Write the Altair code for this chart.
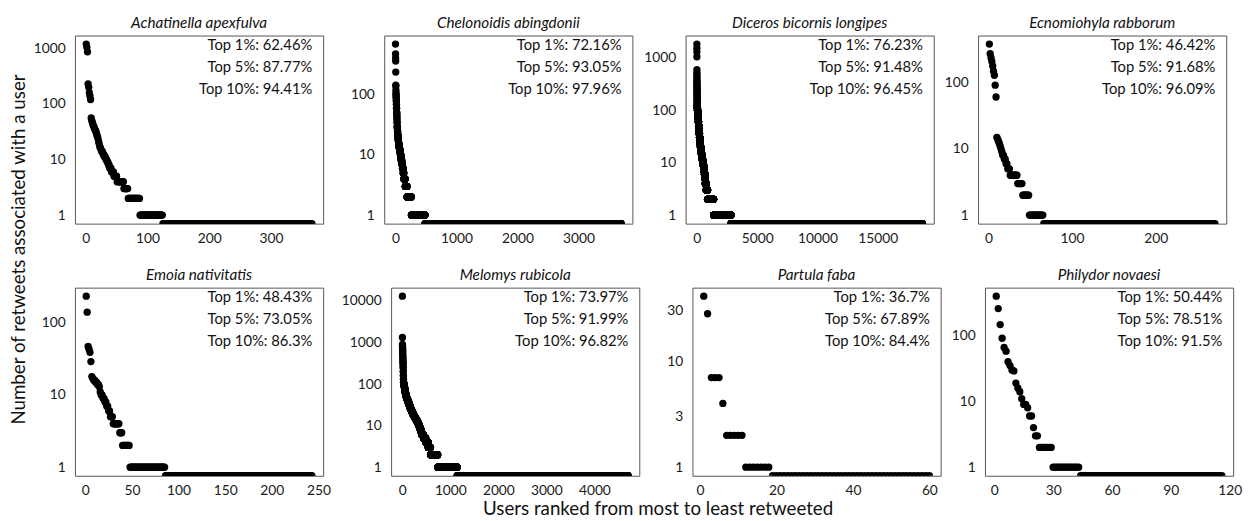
import math
import altair as alt
import pandas as pd

FONT = "Lato"

species = ["Achatinella apexfulva", "Chelonoidis abingdonii", "Diceros bicornis longipes",
           "Ecnomiohyla rabborum", "Emoia nativitatis", "Melomys rubicola",
           "Partula faba", "Philydor novaesi"]

# Retweet-count levels (descending) and number of users at each level
achatinella_counts = [1200, 1050, 870, 230, 200, 160, 140, 120, 56, 50, 46, 42, 40, 37, 35, 33, 31,
                      28, 26, 24, 21, 19, 17, 16, 15, 14, 13, 12, 11, 10, 9, 8, 7, 6, 5, 4, 3, 2, 1, 0]
achatinella_users = [1, 1, 1, 1, 1, 1, 1, 1, 1, 1, 1, 1, 1, 1, 1, 1, 1,
                     1, 1, 1, 1, 1, 1, 1, 1, 2, 1, 2, 2, 2, 2, 2, 3, 4, 5, 11, 7, 19, 37, 242]

chelonoidis_counts = [700, 480, 410, 365, 240, 145, 140, 120, 110, 100, 90, 80, 70, 60, 50, 45, 40, 35, 30,
                      28, 25, 22, 20, 18, 16, 15, 14, 13, 12, 11, 10, 9, 8, 7, 6, 5, 4, 3, 2, 1, 0]
chelonoidis_users = [1, 1, 1, 1, 1, 1, 1, 1, 1, 2, 2, 2, 2, 2, 3, 2, 2, 2, 2,
                     3, 3, 4, 4, 5, 4, 5, 5, 6, 6, 6, 7, 7, 10, 10, 11, 11, 23, 30, 70, 225, 3215]

diceros_counts = [1820, 1520, 1280, 1040, 590, 520, 480, 440, 400, 370,
                  340, 300, 270, 240, 220, 200, 180, 165, 150, 140,
                  125, 110, 100, 90, 80, 70, 60, 50, 42, 36,
                  30, 26, 23, 20, 18, 16, 15, 14, 13, 12, 11,
                  10, 9, 8, 7, 6, 5, 4, 3, 2, 1, 0]
diceros_users = [1, 1, 1, 1, 1, 1, 1, 1, 1, 1,
                 2, 2, 2, 2, 2, 2, 2, 2, 2, 2,
                 10, 12, 14, 16, 18, 20, 22, 24, 26, 28,
                 25, 25, 25, 25, 25, 25, 25, 25, 25, 20, 25,
                 35, 35, 35, 35, 35, 35, 80, 110, 500, 1450, 15860]

ecnomiohyla_counts = [385, 275, 240, 210, 180, 150, 130, 92, 61, 15, 14, 13, 12, 11, 10, 9,
                      8, 7, 6, 5, 4, 3, 2, 1, 0]
ecnomiohyla_users = [1, 1, 1, 1, 1, 1, 1, 1, 1, 1, 1, 1, 1, 1, 1, 1,
                     2, 2, 2, 3, 9, 6, 8, 17, 206]

emoia_counts = [233, 140, 47, 43, 39, 29, 18, 17, 16, 15, 14, 13, 11, 10, 9, 8, 7, 6, 5,
                4, 3, 2, 1, 0]
emoia_users = [1, 1, 1, 1, 1, 1, 1, 1, 2, 2, 2, 1, 1, 2, 2, 2, 2, 2, 3,
               7, 3, 8, 38, 158]

melomys_counts = [13000, 1320, 900, 800, 700, 600, 500, 420, 350, 300, 250, 200, 160, 130, 110,
                  100, 90, 80, 70, 62, 56, 50, 46, 43,
                  40, 36, 32, 29, 26, 24, 22, 20, 18, 17,
                  16, 15, 14, 13, 12, 11, 10, 9, 8, 7,
                  6, 5, 4, 3, 2, 1, 0]
melomys_users = [1, 1, 1, 1, 2, 2, 2, 2, 2, 2, 2, 2, 2, 2, 3,
                 8, 8, 8, 8, 9, 9, 10, 10, 10,
                 14, 14, 14, 14, 15, 15, 15, 15, 15, 14,
                 15, 15, 15, 15, 15, 15, 15, 15, 15, 15,
                 40, 45, 50, 50, 150, 405, 3558]

partula_counts = [41, 28, 7, 4, 2, 1, 0]
partula_users = [1, 1, 3, 1, 5, 7, 42]

philydor_counts = [396, 257, 147, 91, 66, 58, 40, 35, 30, 29, 19, 16, 14, 11, 9, 8, 6, 4, 3,
                   2, 1, 0]
philydor_users = [1, 1, 1, 1, 1, 1, 1, 1, 1, 1, 1, 1, 1, 1, 2, 1, 2, 1, 2,
                  7, 14, 73]

counts_list = [achatinella_counts, chelonoidis_counts, diceros_counts, ecnomiohyla_counts,
               emoia_counts, melomys_counts, partula_counts, philydor_counts]
users_list = [achatinella_users, chelonoidis_users, diceros_users, ecnomiohyla_users,
              emoia_users, melomys_users, partula_users, philydor_users]

top1 = ["62.46%", "72.16%", "76.23%", "46.42%", "48.43%", "73.97%", "36.7%", "50.44%"]
top5 = ["87.77%", "93.05%", "91.48%", "91.68%", "73.05%", "91.99%", "67.89%", "78.51%"]
top10 = ["94.41%", "97.96%", "96.45%", "96.09%", "86.3%", "96.82%", "84.4%", "91.5%"]

y_ticks = [[1, 10, 100, 1000], [1, 10, 100], [1, 10, 100, 1000], [1, 10, 100],
           [1, 10, 100], [1, 10, 100, 1000, 10000], [1, 3, 10, 30], [1, 10, 100]]
x_ticks = [[0, 100, 200, 300], [0, 1000, 2000, 3000], [0, 5000, 10000, 15000], [0, 100, 200],
           [0, 50, 100, 150, 200, 250], [0, 1000, 2000, 3000, 4000], [0, 20, 40, 60],
           [0, 30, 60, 90, 120]]

W, H = 252, 191
COL_EXTENT = [40, 57, 49, 40]   # y-axis band per column (sets the uneven gaps between panels)


def panel(i):
    retweets = []
    for c, u in zip(counts_list[i], users_list[i]):
        retweets.extend([c] * u)
    n = len(retweets)
    L = math.log10(max(retweets))
    ydom = [10 ** (-0.05 * L), 10 ** (1.05 * L)]
    xdom = [1 - 0.05 * (n - 1), n + 0.05 * (n - 1)]
    df = pd.DataFrame({"rank": range(1, n + 1), "retweets": retweets})
    # users with zero retweets sit on the lower panel edge (clamped log scale)
    df["yv"] = df["retweets"].where(df["retweets"] > 0, ydom[0] / 10.0)
    ext = COL_EXTENT[i % 4]

    pts = alt.Chart(df).mark_circle(size=55, color="black", opacity=1, clip=True).encode(
        x=alt.X("rank:Q", scale=alt.Scale(domain=xdom, nice=False, zero=False),
                axis=alt.Axis(values=x_ticks[i], title=None, format="d")),
        y=alt.Y("yv:Q", scale=alt.Scale(type="log", domain=ydom, nice=False, clamp=True),
                axis=alt.Axis(values=y_ticks[i], title=None, format="d",
                              minExtent=ext, maxExtent=ext)),
    )
    ann_df = pd.DataFrame({"t": [f"Top 1%: {top1[i]}\nTop 5%: {top5[i]}\nTop 10%: {top10[i]}"]})
    ann = alt.Chart(ann_df).mark_text(
        align="right", baseline="top", lineBreak="\n", lineHeight=22,
        fontSize=15, font=FONT, color="#111111"
    ).encode(x=alt.value(W - 11), y=alt.value(3), text="t:N")

    return alt.layer(pts, ann).properties(
        width=W, height=H,
        title=alt.TitleParams(species[i], fontStyle="italic", fontSize=15.5, font=FONT,
                              fontWeight="normal", color="#111111", offset=4),
    )


panels = [panel(i) for i in range(8)]
row1 = alt.hconcat(*panels[:4], spacing=3)
row2 = alt.hconcat(*panels[4:], spacing=3)
grid = alt.vconcat(row1, row2, spacing=20,
                   title=alt.TitleParams("Users ranked from most to least retweeted", orient="bottom",
                                         anchor="middle", fontSize=19, font=FONT, fontWeight="normal",
                                         color="#111111", offset=0, dx=21))
chart = alt.hconcat(grid, title=alt.TitleParams("Number of retweets associated with a user", orient="left",
                                                anchor="middle", fontSize=19, font=FONT,
                                                fontWeight="normal", color="#111111", offset=4, dx=18))

chart = chart.configure(background="white",
                        padding={"left": 2, "top": 4, "right": 0, "bottom": 0}).configure_view(
    stroke="#555555", strokeWidth=1
).configure_axis(
    labelFont=FONT, labelFontSize=14, labelColor="#1a1a1a", domain=False, ticks=False, tickSize=0,
    grid=False, labelFlush=False, labelOverlap=False, labelBound=False
).configure_axisY(labelPadding=10).configure_axisX(
    labelPadding=8, minExtent=24, maxExtent=24
)

chart.save("out.html", embed_options={"renderer": "svg", "actions": False})
